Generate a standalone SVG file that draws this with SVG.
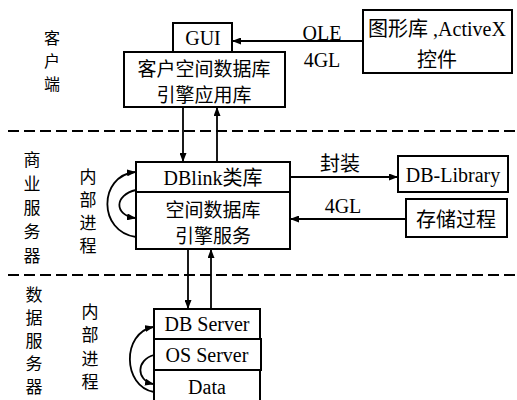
<svg xmlns="http://www.w3.org/2000/svg" width="517" height="400" viewBox="0 0 517 400">
<style>
.box{fill:#fff;stroke:#000;stroke-width:2}
.t{font-family:"Liberation Serif","Noto Sans CJK SC",serif;font-size:20px;fill:#000;text-anchor:middle;dominant-baseline:central}
.c{font-family:"Noto Sans CJK SC",sans-serif;font-size:20px;fill:#000;text-anchor:middle;dominant-baseline:central}
.v{font-family:"Noto Sans CJK SC",sans-serif;font-size:17px;fill:#000;text-anchor:middle;dominant-baseline:central}
.ln{fill:none;stroke:#000;stroke-width:1.8}
.dash{fill:none;stroke:#000;stroke-width:2;stroke-dasharray:11 5}
</style>
<defs>
<marker id="ah" markerWidth="9" markerHeight="7" refX="8" refY="3.5" orient="auto" markerUnits="userSpaceOnUse">
<path d="M0,0 L9,3.5 L0,7 z" fill="#000"/>
</marker>
</defs>
<g id="separators">
<line class="dash" x1="8" y1="131" x2="517" y2="131"/>
<line class="dash" x1="8" y1="275" x2="517" y2="275"/>
</g>
<g id="tier-labels">
<text class="v" x="52" y="37" style="font-size:16px">客</text>
<text class="v" x="52" y="60" style="font-size:16px">户</text>
<text class="v" x="52" y="83" style="font-size:16px">端</text>
<text class="v" x="32" y="158">商</text>
<text class="v" x="32" y="182">业</text>
<text class="v" x="32" y="206">服</text>
<text class="v" x="32" y="230">务</text>
<text class="v" x="32" y="254">器</text>
<text class="v" x="88" y="175">内</text>
<text class="v" x="88" y="198">部</text>
<text class="v" x="88" y="221">进</text>
<text class="v" x="88" y="244">程</text>
<text class="v" x="34" y="293">数</text>
<text class="v" x="34" y="316">据</text>
<text class="v" x="34" y="339">服</text>
<text class="v" x="34" y="362">务</text>
<text class="v" x="34" y="385">器</text>
<text class="v" x="90" y="310">内</text>
<text class="v" x="90" y="333">部</text>
<text class="v" x="90" y="357">进</text>
<text class="v" x="90" y="380">程</text>
</g>
<g id="gui">
<rect class="box" x="173" y="23" width="59" height="29"/>
<text class="t" x="203" y="38">GUI</text>
</g>
<g id="client-lib">
<rect class="box" x="124" y="52" width="161" height="55"/>
<text class="c" x="204" y="67" style="font-size:19px">客户空间数据库</text>
<text class="c" x="204" y="93" style="font-size:19px">引擎应用库</text>
</g>
<g id="activex">
<rect class="box" x="363" y="10" width="149" height="63"/>
<text class="t" x="437" y="29">图形库 ,ActiveX</text>
<text class="c" x="437" y="58">控件</text>
</g>
<g id="dblink">
<rect class="box" x="136" y="162" width="154" height="87"/>
<line class="ln" x1="136" y1="192" x2="290" y2="192" stroke-width="2"/>
<text class="t" x="213" y="178">DBlink类库</text>
<text class="c" x="213" y="208" style="font-size:19px">空间数据库</text>
<text class="c" x="213" y="234" style="font-size:19px">引擎服务</text>
</g>
<g id="dblibrary">
<rect class="box" x="398" y="156" width="110" height="36"/>
<text class="t" x="453" y="175">DB-Library</text>
</g>
<g id="storedproc">
<rect class="box" x="406" y="199" width="101" height="38"/>
<text class="c" x="456" y="218">存储过程</text>
</g>
<g id="dbserver">
<rect class="box" x="154" y="309" width="106" height="30"/>
<text class="t" x="207" y="324">DB Server</text>
</g>
<g id="osserver">
<rect class="box" x="154" y="339" width="107" height="31"/>
<text class="t" x="207" y="355">OS Server</text>
</g>
<g id="data">
<path class="box" d="M154,410 V370 H260 V410"/>
<text class="t" x="207" y="387">Data</text>
</g>
<g id="connectors">
<line class="ln" x1="363" y1="41" x2="233" y2="41" marker-end="url(#ah)"/>
<text class="t" x="322" y="33">OLE</text>
<text class="t" x="322" y="60">4GL</text>
<line class="ln" x1="183" y1="107" x2="183" y2="161" marker-end="url(#ah)"/>
<line class="ln" x1="217" y1="162" x2="217" y2="108" marker-end="url(#ah)" stroke-width="1.4"/>
<line class="ln" x1="290" y1="177" x2="397" y2="177" marker-end="url(#ah)"/>
<text class="c" x="340" y="162">封装</text>
<line class="ln" x1="406" y1="219" x2="291" y2="219" marker-end="url(#ah)"/>
<text class="t" x="343" y="206">4GL</text>
<line class="ln" x1="188" y1="249" x2="188" y2="308" marker-end="url(#ah)"/>
<line class="ln" x1="211" y1="309" x2="211" y2="250" marker-end="url(#ah)" stroke-width="1.4"/>
<path class="ln" d="M136,237 C98,232 98,176 135,172" marker-end="url(#ah)"/>
<path class="ln" d="M136,190 C114,195 114,215 135,218" marker-end="url(#ah)"/>
<path class="ln" d="M154,392 C122,386 122,333 153,327" marker-end="url(#ah)"/>
<path class="ln" d="M154,355 C136,360 136,380 153,384" marker-end="url(#ah)"/>
</g>
</svg>
